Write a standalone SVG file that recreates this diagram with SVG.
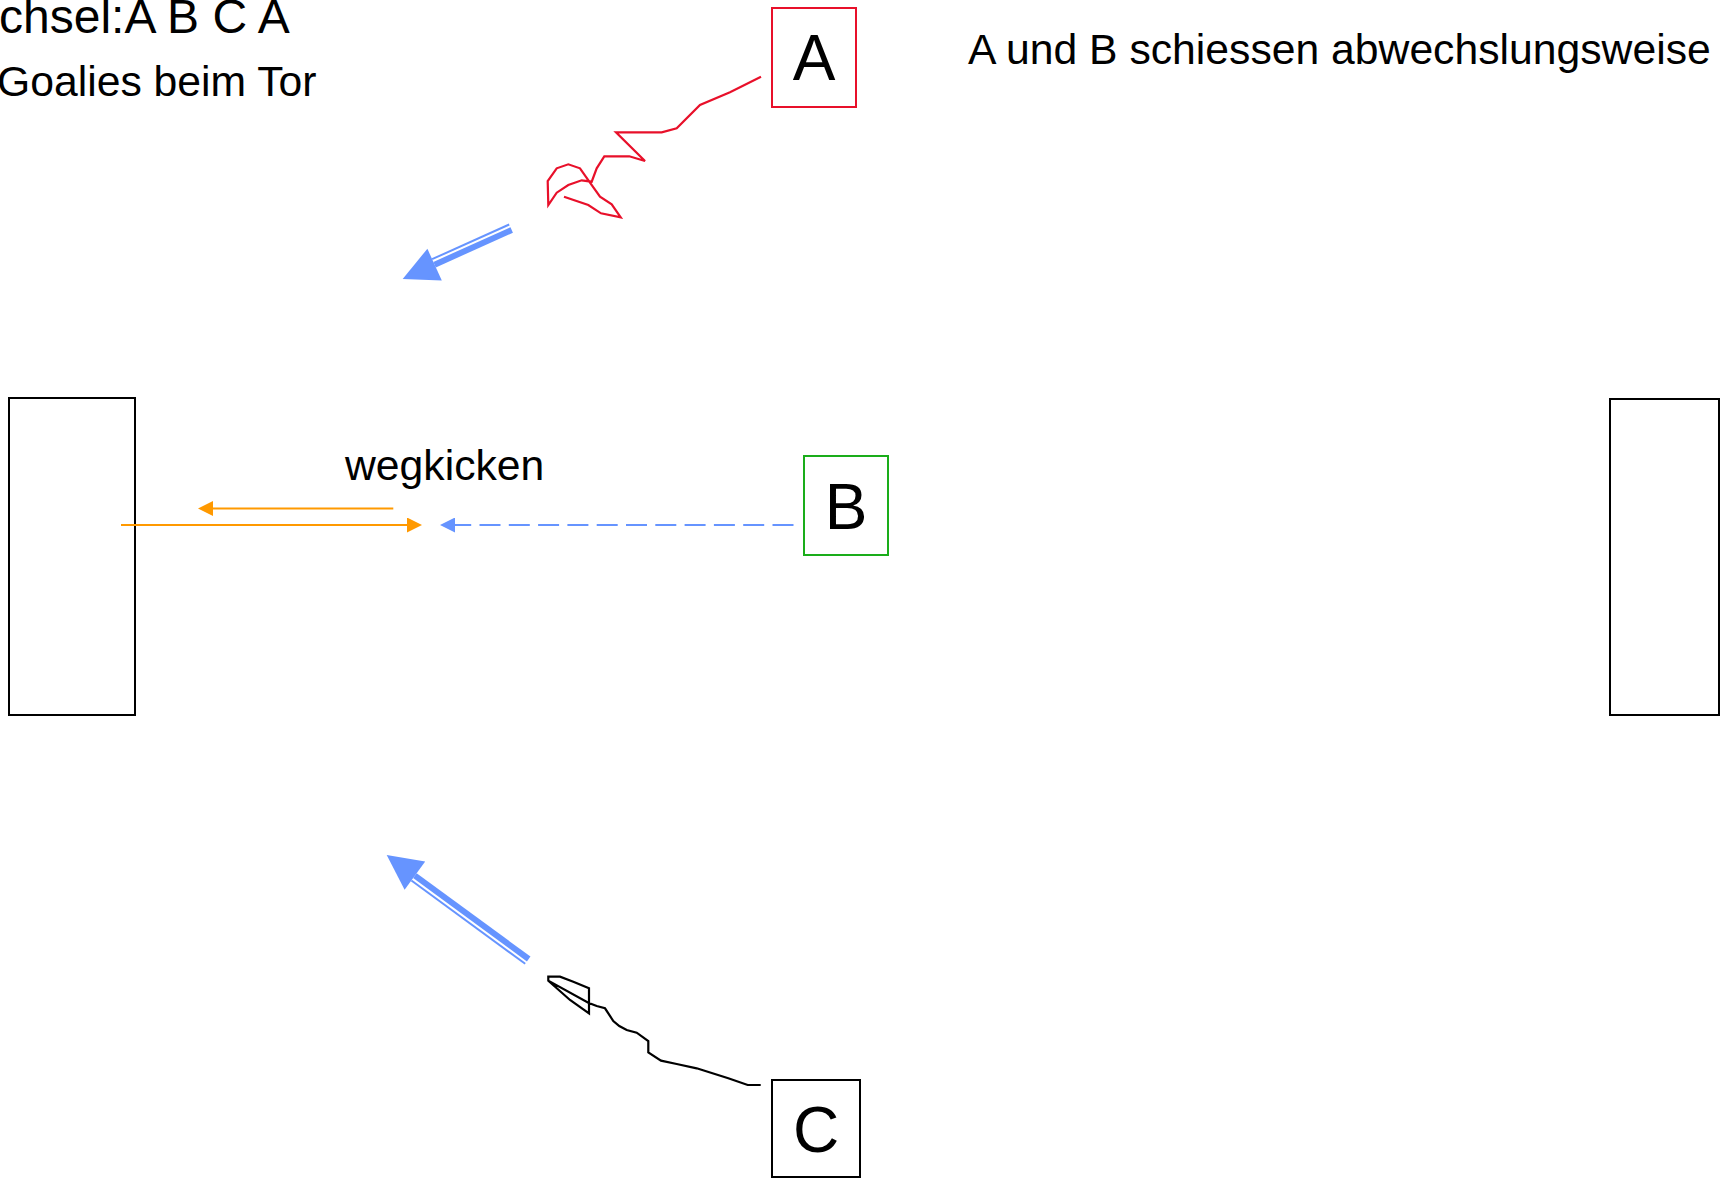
<svg xmlns="http://www.w3.org/2000/svg" width="1728" height="1178" viewBox="0 0 1728 1178">
<style>
text{font-family:"Liberation Sans",Arial,sans-serif;fill:#000}
.lbl{font-size:42.7px}
.big{font-size:64px;text-anchor:middle}
.box{fill:#fff;stroke-width:2}
.goal{fill:#fff;stroke:#000;stroke-width:2}
.orange{stroke:#ff9900;stroke-width:2;fill:none}
.bdash{stroke:#6694ff;stroke-width:2;fill:none;stroke-dasharray:21 8.3}
.thick{stroke:#6694ff;stroke-width:6;fill:none}
.thin{stroke:#6694ff;stroke-width:2;fill:none}
.head{fill:#6694ff}
.squig{fill:none;stroke-width:2.2;stroke-linejoin:miter}
</style>
<defs>
<marker id="arrO" markerUnits="userSpaceOnUse" markerWidth="15" markerHeight="15" viewBox="0 0 15 15" refX="0" refY="7.5" orient="auto"><path d="M0,0 L15,7.5 L0,15 z" fill="#ff9900"/></marker>
<marker id="arrB" markerUnits="userSpaceOnUse" markerWidth="15" markerHeight="15" viewBox="0 0 15 15" refX="0" refY="7.5" orient="auto"><path d="M0,0 L15,7.5 L0,15 z" fill="#6694ff"/></marker>
</defs>

<g id="texts">
<text class="lbl" x="-1" y="33" style="font-size:48px">chsel:A B C A</text>
<text class="lbl" x="-3" y="96">Goalies beim Tor</text>
<text class="lbl" x="968" y="64">A und B schiessen abwechslungsweise</text>
<text class="lbl" x="345" y="480">wegkicken</text>
</g>

<g id="goal-left"><rect class="goal" x="9" y="398" width="126" height="317"/></g>
<g id="goal-right"><rect class="goal" x="1610" y="399" width="109" height="316"/></g>

<g id="node-A"><rect class="box" x="772" y="8" width="84" height="99" stroke="#e8102a"/><text class="big" x="814" y="80">A</text></g>
<g id="node-B"><rect class="box" x="804" y="456" width="84" height="99" stroke="#1aad1a"/><text class="big" x="846" y="529">B</text></g>
<g id="node-C"><rect class="box" x="772" y="1080" width="88" height="97" stroke="#000"/><text class="big" x="816" y="1152">C</text></g>

<g id="connectors">
<path class="squig" stroke="#e8102a" d="M761,76.7 L730,92.3 L700,105 L676.7,128.3 L661.7,132.3 L616,132.3 L645,161 L629.3,156.3 L604.3,156.3 L596.7,168.3 L591.7,181.7 L581.7,180.3 L568.3,185 L556.7,192.7 L548.3,205 L547.7,181 L556.7,168.3 L568.3,164.3 L580,168.3 L590,182.7 L600,196.7 L611.7,204.3 L620.7,217.3 L601,213.3 L588.3,205 L564,196.7"/>
<path class="squig" stroke="#000" d="M760.7,1085 L747.7,1085 L728.3,1078.3 L696.7,1068.3 L676.7,1064 L661,1060.7 L648.3,1052.3 L648.3,1041 L636.7,1032.7 L626.7,1030 L619.3,1026 L613.3,1021 L605,1008.3 L596.7,1006 L588.3,1002.7 L548.3,980.7 L548.3,976.7 L560,976.7 L573.3,981.7 L589,988.3 L589,1013.3 L570,1000 L548.3,980.7"/>

<line class="orange" x1="393.3" y1="508.5" x2="213" y2="508.5" marker-end="url(#arrO)"/>
<line class="orange" x1="121" y1="525" x2="407" y2="525" marker-end="url(#arrO)"/>
<line class="bdash" x1="793.5" y1="525" x2="455" y2="525" marker-end="url(#arrB)"/>

<g id="shot-A">
<line class="thick" x1="511.7" y1="230" x2="434.6" y2="264.65"/>
<line class="thin" x1="509.2" y1="224.5" x2="432.1" y2="259.2"/>
<polygon class="head" points="402.7,279 427.4,248.7 441.8,280.6"/>
</g>
<g id="shot-C">
<line class="thick" x1="528.7" y1="959" x2="414.9" y2="875.7"/>
<line class="thin" x1="525.2" y1="963.8" x2="411.4" y2="880.5"/>
<polygon class="head" points="386.7,855 425.2,861.6 404.6,889.8"/>
</g>
</g>
</svg>
